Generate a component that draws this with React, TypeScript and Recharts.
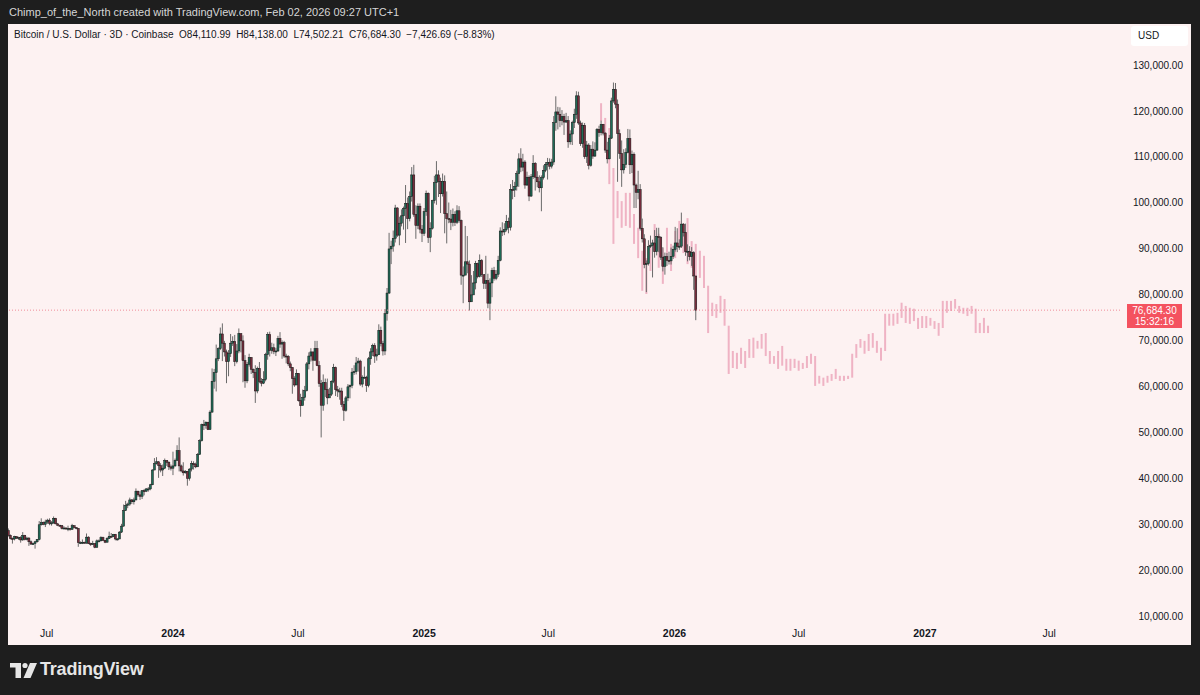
import React from 'react';
import { ComposedChart, Bar, XAxis, YAxis, ReferenceLine } from 'recharts';

const FONT = "'Liberation Sans', Arial, sans-serif";

// 3-day candles, values in thousands USD: [close, high, low]; open = previous close
const FIRST_OPEN = 28.7;
const CANDLE_START = -240; // days from 2024-01-01 (first candle 2023-05-06)
const CANDLE_STEP = 3;

const candles2023: number[][] = [
  [27.7,29.2,27.4],[27.0,27.9,26.8],[26.9,27.2,25.9],[27.4,27.6,26.6],[27.1,27.5,26.9],[27.2,27.4,26.7],[26.7,27.5,26.1],[27.7,28.4,26.5],[26.8,27.8,26.6],[27.1,27.4,26.6],
  [26.3,27.3,25.4],[25.8,26.6,25.6],[25.9,26.1,25.6],[26.3,26.5,24.8],[26.8,26.9,26.1],[30.0,30.8,26.6],[30.5,31.4,29.8],[30.1,30.7,29.9],[30.6,31.1,29.5],[31.0,31.3,30.2],
  [30.3,31.4,29.9],[30.4,30.8,29.8],[31.4,31.8,30.2],[30.2,31.5,30.1],[29.9,30.4,29.7],[29.8,30.0,29.6],[29.2,29.9,29.0],[29.3,29.7,29.0],[29.2,29.4,28.9],[29.2,29.8,28.6],
  [29.0,29.3,28.7],[29.8,30.2,28.9],[29.4,29.8,29.2],[29.2,29.5,29.0],[26.1,29.3,25.2],[26.1,26.4,25.8],[26.2,26.8,25.8],[26.0,26.3,25.9],[27.3,28.1,25.9],[25.9,27.5,25.8],
  [25.8,26.1,25.4],[25.9,26.5,25.6],[25.1,26.0,24.9],[26.5,26.8,25.0],[26.5,26.8,26.2],[27.2,27.5,26.4],[26.6,27.4,26.5],[26.2,26.7,26.0],[27.0,27.3,26.2],[27.5,28.5,26.9],
  [27.4,28.2,27.2],[27.9,28.0,27.3],[26.9,28.0,26.6],[26.9,27.1,26.6],[28.4,28.6,26.9],[29.7,30.2,28.2],[33.1,34.4,29.6],[34.2,35.2,33.0],[34.5,34.8,33.6],[35.4,35.9,34.1],
  [35.0,35.6,34.5],[35.4,35.9,34.4],[37.3,37.9,35.3],[36.5,37.4,36.1],[36.2,37.3,35.4],[37.4,37.5,35.6],[37.3,37.8,36.4],[37.8,38.0,37.1],[37.8,38.2,37.2],[38.7,38.9,37.5],
  [41.9,42.1,38.6],[43.3,44.5,41.9],[43.7,44.7,43.1],[42.9,43.8,40.2],[41.9,43.4,41.4],[42.3,43.1,40.6],[44.0,44.4,42.1],[43.6,44.0,42.8],[42.6,43.8,41.9],[42.3,43.1,41.8],
];

const candles2024: number[][] = [
  [42.8,45.9,40.8],[44.0,44.4,42.6],[46.1,47.3,43.9],[42.8,49.0,41.6],[41.7,43.1,41.4],[41.3,43.6,40.7],[41.6,41.9,41.1],[40.1,41.7,38.5],[42.1,42.3,39.6],[43.3,43.9,41.6],
  [43.2,43.8,42.0],[42.6,43.5,42.3],[45.3,45.6,42.6],[48.3,48.6,45.2],[51.8,52.0,48.1],[51.6,52.8,50.6],[52.3,52.5,50.9],[50.7,52.4,50.6],[54.5,54.9,50.7],[61.2,64.0,54.4],
  [63.1,63.9,59.6],[66.1,69.2,59.0],[68.3,68.6,65.6],[71.5,72.9,68.0],[69.5,73.8,65.6],[67.6,70.0,66.6],[65.5,68.1,60.8],[67.2,68.0,62.3],[69.5,71.5,66.5],[69.9,71.0,68.9],
  [65.5,71.3,64.5],[67.8,69.3,65.1],[71.6,72.7,67.3],[70.0,71.3,67.5],[65.7,71.2,61.0],[61.3,66.9,59.8],[64.9,65.4,60.8],[66.4,67.2,64.4],[63.8,66.4,62.8],[63.1,64.0,61.9],
  [59.1,64.7,56.5],[64.0,64.4,58.6],[61.2,65.4,60.8],[60.8,61.9,60.1],[61.6,63.4,60.6],[67.0,67.4,61.2],[71.4,71.9,65.9],[67.9,72.0,66.6],[68.5,69.6,67.2],[67.7,69.4,67.1],
  [67.8,68.5,66.7],[70.5,71.1,67.6],[69.3,71.9,68.5],[69.6,70.1,66.1],[66.7,70.0,66.3],[66.6,67.2,65.1],[65.0,66.9,64.5],[64.2,65.5,63.4],[61.8,64.3,58.5],[60.4,62.3,60.0],
  [62.9,63.8,60.5],[57.0,63.0,56.8],[55.9,58.5,53.5],[57.7,59.4,56.3],[59.2,60.2,57.0],[65.0,65.4,59.0],[66.7,67.5,63.8],[67.6,68.4,65.5],[65.8,67.6,63.5],[68.3,70.0,65.6],
  [64.6,70.0,64.5],[60.7,65.6,60.0],[56.0,61.5,49.0],[60.9,62.7,54.8],[59.4,61.8,57.8],[57.6,61.8,56.2],[58.4,59.8,57.8],[61.2,61.4,58.0],[64.2,65.0,60.8],[59.4,64.4,58.0],
  [59.1,60.2,57.8],[59.1,59.8,57.2],[56.2,59.8,55.6],[54.9,56.9,52.6],[57.6,58.0,54.6],[60.0,60.6,56.9],[60.3,60.5,57.5],[63.2,64.1,59.7],[63.3,64.7,62.6],[65.2,66.5,62.7],
  [65.6,66.3,63.3],[60.6,65.9,60.2],[62.1,62.5,59.9],[62.1,64.4,61.8],[60.3,62.4,58.9],[66.1,66.5,59.9],[67.6,68.4,64.8],[69.0,69.4,66.7],[66.7,69.5,65.2],[67.0,68.3,65.7],
  [72.3,73.6,66.9],[69.4,73.1,68.8],[67.8,70.0,66.8],[75.9,76.9,66.9],[80.4,81.5,74.4],[90.0,93.5,80.2],[90.6,91.8,86.7],[92.3,94.0,89.4],[98.9,99.6,91.4],[93.0,99.1,92.6],
  [95.6,97.0,90.8],[97.2,98.6,94.9],[98.8,99.2,94.2],[99.9,103.9,91.3],[96.6,101.2,94.3],[101.4,102.5,96.0],[106.1,107.8,100.3],[97.5,108.3,97.0],[95.1,99.5,92.2],[99.3,99.9,94.3],
  [94.3,99.9,93.4],[93.4,95.2,91.5],
];

const candles2025: number[][] = [
  [98.1,98.9,92.8],[102.1,102.7,97.2],[92.5,102.3,91.3],[94.5,95.8,89.3],[100.5,100.7,94.2],[104.4,105.9,99.9],[106.1,109.1,99.6],[104.7,107.1,101.3],[102.0,105.5,97.8],[104.7,106.4,101.4],
  [97.7,106.0,93.4],[96.6,102.5,91.2],[96.5,100.1,95.6],[95.8,98.5,94.1],[97.5,98.8,94.9],[95.8,98.2,95.0],[98.3,99.5,95.4],[96.2,99.3,95.7],[84.3,96.4,82.2],[84.3,86.2,78.2],
  [87.2,95.0,84.4],[86.7,92.8,84.7],[78.5,87.5,76.6],[80.0,84.3,78.6],[82.6,85.2,80.6],[86.8,87.4,81.2],[84.0,87.0,83.6],[87.5,88.8,83.8],[84.4,87.8,83.9],[82.5,84.4,81.3],
  [83.1,88.5,81.3],[78.2,84.6,77.1],[82.6,83.6,74.5],[85.3,85.9,79.5],[83.6,86.1,83.1],[84.5,85.4,83.2],[87.5,88.5,83.9],[93.9,94.7,87.3],[93.7,95.8,92.8],[94.2,95.6,93.0],
  [96.0,97.4,93.8],[94.7,96.8,93.4],[102.9,104.1,94.0],[102.8,105.0,100.8],[103.6,104.6,101.3],[106.4,107.0,102.7],[109.6,110.8,103.5],[107.8,111.9,106.7],[108.9,110.7,106.9],[103.9,109.3,103.1],
  [105.6,106.8,103.7],[101.5,106.0,100.4],[105.7,106.3,101.3],[108.6,110.4,105.2],[105.6,108.9,102.7],[104.6,106.9,103.4],[103.3,106.0,102.3],[105.5,106.0,98.2],[107.1,108.2,105.1],[108.4,108.9,106.7],
  [108.8,109.8,105.1],[108.0,109.7,107.3],[108.9,109.6,107.5],[117.5,118.9,108.3],[119.8,123.2,115.7],[119.3,120.9,116.0],[117.9,120.8,116.5],[118.8,120.2,116.9],[117.6,119.4,114.8],[117.9,119.6,117.4],
  [113.3,118.9,112.0],[115.0,115.8,112.7],[117.5,117.9,112.6],[119.3,120.5,116.3],[123.3,124.3,118.3],[117.4,124.2,117.0],[112.9,117.9,112.4],[116.9,117.5,112.0],[110.1,117.4,109.6],[112.6,113.5,108.7],
  [108.2,113.0,107.3],[111.7,112.6,107.9],[110.2,113.4,109.6],[111.5,113.2,110.0],[116.0,116.3,111.3],[115.3,116.8,114.4],[117.1,117.9,114.7],[115.2,117.2,114.7],[111.5,115.4,110.9],[109.6,113.3,108.6],
  [114.1,114.8,109.5],[122.2,122.9,113.9],[124.7,126.2,121.8],[121.5,126.1,120.6],[115.1,122.5,104.6],[110.8,116.0,109.6],[107.2,113.6,103.5],[108.4,111.7,106.4],[111.0,111.9,107.6],[114.0,116.1,110.8],
  [108.3,116.0,106.3],[110.6,111.4,106.5],[103.9,111.0,98.9],[102.3,104.2,98.9],[102.9,107.0,100.8],[94.5,104.1,94.0],[92.2,96.6,91.4],[86.6,93.2,85.8],[86.8,87.5,80.6],[90.5,91.9,86.4],
  [90.8,92.9,90.2],[91.3,92.0,83.8],[89.4,94.1,88.1],[92.7,94.6,88.6],[92.5,94.6,89.3],[88.2,92.8,87.6],[86.2,90.4,85.1],[88.3,89.2,84.4],[87.5,89.1,86.3],[87.4,89.4,86.6],
  [88.4,90.3,86.6],[89.9,90.7,87.8],
];

const candles2026: number[][] = [
  [91.3,94.8,89.4],[90.5,94.5,89.3],[90.6,92.1,89.8],[95.4,97.9,90.2],[93.6,95.6,92.7],[89.4,95.5,88.5],[89.5,91.0,87.3],[88.3,90.6,87.5],[89.2,90.4,86.3],[84.11099,89.5,81.1],[76.6843,84.138,74.50221],
];

// projected (pink) high-low bars, 6-day spacing, thousands USD
const GHOST_START = 624;
const GHOST_STEP = 6;
const ghostHigh: number[] = [
  121.7,118.5,116.3,107.6,102.6,100.4,102.2,102.2,97.6,94.6,
  89.6,88.0,91.1,95.4,93.3,90.2,94.6,91.1,93.9,96.1,
  93.5,96.7,91.7,91.1,89.6,88.5,82.0,78.3,78.0,79.8,
  79.1,73.3,67.8,67.4,68.5,67.8,70.4,70.7,70.0,71.5,
  71.7,67.8,66.7,67.8,68.9,66.1,66.1,66.1,65.7,65.2,
  66.7,67.2,66.7,62.4,62.0,62.4,62.8,63.9,62.4,62.4,
  62.4,67.2,69.3,70.4,70.0,71.5,71.7,70.0,68.5,75.9,
  75.9,75.9,76.1,78.3,77.6,77.2,77.0,75.0,75.4,75.4,
  75.0,74.3,73.9,78.7,78.7,78.7,79.1,77.6,77.2,77.2,
  77.6,77.0,73.9,75.0,73.3,
];
const ghostLow: number[] = [
  117.8,114.1,104.1,91.1,96.7,94.6,95.0,94.6,91.1,88.0,
  80.9,80.2,85.2,89.6,85.9,82.4,88.0,85.2,88.0,90.2,
  89.1,86.7,85.9,83.0,83.7,81.5,71.7,75.4,75.0,76.1,
  73.3,62.8,64.1,63.9,65.0,64.1,66.3,66.3,68.3,68.3,
  66.7,65.0,65.0,63.9,64.6,63.5,63.5,64.1,63.5,63.9,
  64.1,65.0,60.2,60.7,60.2,60.9,61.3,61.7,61.3,61.3,
  61.7,62.0,66.3,68.5,67.2,67.8,68.5,67.4,65.7,67.8,
  73.3,73.3,73.7,75.0,73.9,73.7,74.3,72.6,72.8,72.8,
  73.3,72.6,71.1,72.8,76.1,76.5,77.0,76.1,75.9,75.4,
  75.9,71.7,71.7,71.7,71.7,
];

const timeTicks: number[] = [-184, 0, 182, 366, 547, 731, 912, 1096, 1277];
const timeLabels: string[] = ['Jul', '2024', 'Jul', '2025', 'Jul', '2026', 'Jul', '2027', 'Jul'];
const priceTicks: number[] = [10, 20, 30, 40, 50, 60, 70, 80, 90, 100, 110, 120, 130];
const LAST_CLOSE = 76.6843;
const T_MIN = -240.5;
const T_MAX = 1380.3;
const P_MIN = 9.28;
const P_MAX = 138.93;

const rowMap = new Map<number, any>();
{
  let prev = FIRST_OPEN;
  [...candles2023, ...candles2024, ...candles2025, ...candles2026].forEach(([c, h, l], i) => {
    const t = CANDLE_START + i * CANDLE_STEP;
    rowMap.set(t, { t, o: prev, c, range: [l, h] });
    prev = c;
  });
  ghostHigh.forEach((h, j) => {
    const t = GHOST_START + j * GHOST_STEP;
    const r = rowMap.get(t) || { t };
    r.ghost = [ghostLow[j], h];
    rowMap.set(t, r);
  });
}
const data = Array.from(rowMap.values()).sort((a, b) => a.t - b.t);

const CandleShape = (props: any) => {
  const { x, y, width, height, payload } = props;
  if (!payload || !payload.range || !isFinite(y) || !isFinite(height)) return <g />;
  const [l, h] = payload.range;
  const { o, c } = payload;
  const top = Math.min(y, y + height);
  const H = Math.abs(height);
  const cx = x + width / 2;
  const ratio = h > l ? H / (h - l) : 0;
  const bTop = top + (h - Math.max(o, c)) * ratio;
  const bH = Math.max(1, Math.abs(o - c) * ratio);
  const up = c >= o;
  return (
    <g>
      <line x1={cx} x2={cx} y1={top} y2={top + H} stroke="#6a6a6a" strokeWidth={1} />
      <rect x={cx - 1} y={bTop} width={2} height={bH} fill={up ? '#1f6b57' : '#7a2e3e'} stroke="#141414" strokeWidth={0.5} />
    </g>
  );
};

const GhostShape = (props: any) => {
  const { x, y, width, height, payload } = props;
  if (!payload || !payload.ghost || !isFinite(y) || !isFinite(height)) return <g />;
  const top = Math.min(y, y + height);
  const H = Math.max(1, Math.abs(height));
  const cx = x + width / 2;
  return <rect x={cx - 1} y={top} width={2} height={H} fill="#efb3c4" />;
};

const PriceTick = (props: any) => {
  const { y, payload } = props;
  const label = (payload.value * 1000).toLocaleString('en-US', { minimumFractionDigits: 2, maximumFractionDigits: 2 });
  return (
    <text x={1175} y={y} textAnchor="end" dominantBaseline="central" fontSize={10} fill="#131722" fontFamily={FONT}>
      {label}
    </text>
  );
};

const TimeTick = (props: any) => {
  const { x, payload } = props;
  const idx = timeTicks.indexOf(payload.value);
  const label = idx >= 0 ? timeLabels[idx] : '';
  const bold = /^\d{4}$/.test(label);
  return (
    <text x={x} y={609} textAnchor="middle" dominantBaseline="central" fontSize={10.5} fontWeight={bold ? 700 : 400} fill="#131722" fontFamily={FONT}>
      {label}
    </text>
  );
};

export default function App() {
  return (
    <div style={{ position: 'absolute', left: 0, top: 0, width: 1200, height: 695, background: '#1e1e1e', overflow: 'hidden', fontFamily: FONT }}>
      <div style={{ position: 'absolute', left: 9, top: 6, fontSize: 11, color: '#d6d6d6', whiteSpace: 'nowrap' }}>
        Chimp_of_the_North created with TradingView.com, Feb 02, 2026 09:27 UTC+1
      </div>
      <div style={{ position: 'absolute', left: 8, top: 24, width: 1183, height: 621, background: '#fdf2f2' }}>
        <ComposedChart width={1183} height={621} data={data} margin={{ top: 0, right: 0, bottom: 0, left: 0 }}>
          <XAxis xAxisId="c" dataKey="t" type="number" domain={[T_MIN, T_MAX]} allowDataOverflow ticks={timeTicks} interval={0} tick={(p: any) => <TimeTick {...p} />} tickLine={false} axisLine={false} height={25} />
          <XAxis xAxisId="g" dataKey="t" type="number" domain={[T_MIN, T_MAX]} allowDataOverflow ticks={timeTicks} hide />
          <YAxis yAxisId="p" orientation="right" type="number" domain={[P_MIN, P_MAX]} allowDataOverflow ticks={priceTicks} interval={0} tick={(p: any) => <PriceTick {...p} />} tickLine={false} axisLine={false} width={71} />
          <ReferenceLine xAxisId="c" yAxisId="p" y={LAST_CLOSE} stroke="#f08e9b" strokeDasharray="1 2" strokeWidth={1} />
          <Bar xAxisId="g" yAxisId="p" dataKey="ghost" barSize={2} shape={(p: any) => <GhostShape {...p} />} isAnimationActive={false} />
          <Bar xAxisId="c" yAxisId="p" dataKey="range" barSize={2} shape={(p: any) => <CandleShape {...p} />} isAnimationActive={false} />
        </ComposedChart>
        <div style={{ position: 'absolute', left: 6, top: 5, fontSize: 10, color: '#131722', whiteSpace: 'nowrap' }}>
          Bitcoin / U.S. Dollar · 3D · Coinbase&nbsp;&nbsp;O84,110.99&nbsp;&nbsp;H84,138.00&nbsp;&nbsp;L74,502.21&nbsp;&nbsp;C76,684.30&nbsp;&nbsp;−7,426.69 (−8.83%)
        </div>
        <div style={{ position: 'absolute', left: 1123, top: 2, width: 57, height: 20, background: '#ffffff', borderRadius: 3, fontSize: 10, color: '#131722', lineHeight: '20px', paddingLeft: 7, boxSizing: 'border-box' }}>
          USD
        </div>
        <div style={{ position: 'absolute', left: 1119, top: 280, width: 55, height: 24, background: '#f4525f', color: '#ffffff', fontSize: 10, lineHeight: '11px', textAlign: 'center', paddingTop: 1, boxSizing: 'border-box' }}>
          <div>76,684.30</div>
          <div>15:32:16</div>
        </div>
      </div>
      <svg style={{ position: 'absolute', left: 10, top: 662 }} width={28} height={18} viewBox="0 0 28 18">
        <rect x={0} y={1} width={11} height={4.5} fill="#e6e6e6" />
        <rect x={5.5} y={1} width={5.5} height={15} fill="#e6e6e6" />
        <circle cx={15} cy={3.5} r={2.6} fill="#e6e6e6" />
        <polygon points="20,1 27,1 20.5,16 13.5,16" fill="#e6e6e6" />
      </svg>
      <div style={{ position: 'absolute', left: 40, top: 659, fontSize: 18, fontWeight: 700, color: '#e6e6e6', whiteSpace: 'nowrap', letterSpacing: -0.2 }}>
        TradingView
      </div>
    </div>
  );
}
